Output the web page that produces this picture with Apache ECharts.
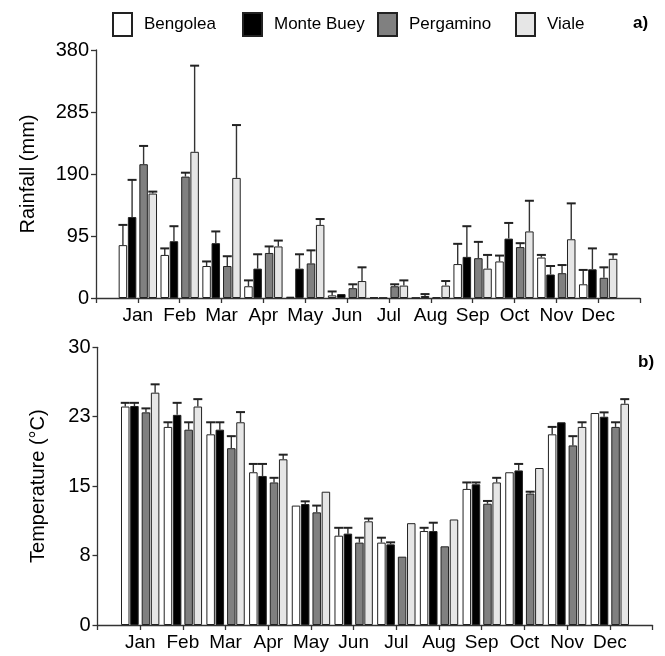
<!DOCTYPE html>
<html>
<head>
<meta charset="utf-8">
<script src="https://cdn.jsdelivr.net/npm/echarts@6/dist/echarts.min.js"></script>
<style>
  html, body { margin: 0; padding: 0; background: #fff; }
  #chart { width: 665px; height: 656px; }
</style>
</head>
<body>
<div id="chart"></div>
<script>
// Month axis: an empty slot on each side so ticks sit at month centres
const months = ['', 'Jan', 'Feb', 'Mar', 'Apr', 'May', 'Jun', 'Jul', 'Aug', 'Sep', 'Oct', 'Nov', 'Dec', ''];
const sites = ['Bengolea', 'Monte Buey', 'Pergamino', 'Viale'];

// Monthly rainfall (mm): mean and upper error
const rainBengolea   = [81, 66, 49, 18, 2, 4, 1, 0.5, 52, 56, 62, 21];
const rainMonteBuey  = [124, 87, 84, 45, 45, 6, 0.5, 3, 63, 91, 36, 44];
const rainPergamino  = [205, 186, 49, 69, 53, 15, 18, 1, 61, 78, 38, 31];
const rainViale      = [160, 224, 184, 79, 112, 26, 19, 19, 45, 102, 90, 60];
const rainErrBengolea  = [31, 10, 7, 9, 0, 6, 0, 0, 31, 9, 4, 22];
const rainErrMonteBuey = [57, 23, 18, 22, 22, 0, 0, 3, 47, 24, 13, 32];
const rainErrPergamino = [28, 6, 15, 10, 20, 6, 3, 0, 25, 6, 12.5, 16];
const rainErrViale     = [3, 132, 81, 9, 9, 21, 8, 7, 21, 47, 55, 7];

// Monthly mean temperature (°C): mean and upper error
const tempBengolea   = [23.6, 21.4, 20.6, 16.5, 12.9, 9.65, 8.9, 10.15, 14.7, 16.5, 20.6, 22.9];
const tempMonteBuey  = [23.66, 22.7, 21.1, 16.1, 13.07, 9.87, 8.71, 10.15, 15.2, 16.7, 21.9, 22.5];
const tempPergamino  = [22.97, 21.1, 19.1, 15.4, 12.17, 8.9, 7.38, 8.5, 13.1, 14.2, 19.4, 21.4];
const tempViale      = [25.1, 23.6, 21.9, 17.9, 14.4, 11.2, 11.0, 11.4, 15.4, 16.96, 21.4, 23.9];
const tempErrBengolea  = [0.4, 0.5, 1.3, 0.9, 0, 0.85, 0.53, 0.35, 0.7, 0, 0.8, 0];
const tempErrMonteBuey = [0.34, 1.3, 0.8, 1.3, 0.29, 0.63, 0.22, 0.9, 0.2, 0.7, 0, 0.47];
const tempErrPergamino = [0.43, 0.8, 1.3, 0.5, 0.73, 0.53, 0, 0, 0.3, 0.2, 1.0, 0.5];
const tempErrViale     = [0.9, 0.8, 1.1, 0.5, 0, 0.3, 0, 0, 0.5, 0, 0.5, 0.5];

// Axis ranges and tick steps
const rainMax = 380, rainStep = 95;
const tempMax = 30, tempStep = 7.5;

const FONT = 'Liberation Sans, Arial, sans-serif';
const fills = ['#ffffff', '#000000', '#808080', '#e6e6e6'];
const BAR_W = 8.5;
const GAP = 0.08;      // barGap fraction
const SPACER_W = 2.15; // small extra gap between the 2nd and 3rd bar

// Horizontal offsets of each bar centre relative to the month tick,
// following ECharts' own column layout (bar, bar, spacer, bar, bar)
function barOffsets() {
  const widths = [BAR_W, BAR_W, SPACER_W, BAR_W, BAR_W];
  let sum = 0;
  widths.forEach(w => { sum += w * (1 + GAP); });
  sum -= widths[widths.length - 1] * GAP;
  let off = -sum / 2;
  const centres = [];
  widths.forEach(w => { centres.push(off + w / 2); off += w * (1 + GAP); });
  return [centres[0], centres[1], centres[3], centres[4]];
}
const offsets = barOffsets();

function toPairs(arr) { return arr.map((v, i) => [i + 1, v]); }
function toTriples(vals, errs) { return vals.map((v, i) => [i + 1, v, errs[i]]); }

function errorSeries(vals, errs, k, axisIdx) {
  return {
    type: 'custom',
    xAxisIndex: axisIdx, yAxisIndex: axisIdx,
    z: 5,
    silent: true,
    encode: { x: 0, y: 1 },
    data: toTriples(vals, errs),
    renderItem: function (params, api) {
      const err = api.value(2);
      if (!(err > 0)) return null;
      const base = api.coord([api.value(0), api.value(1)]);
      const top = api.coord([api.value(0), api.value(1) + err]);
      const x = base[0] + offsets[k];
      return {
        type: 'group',
        children: [
          { type: 'line', shape: { x1: x, y1: base[1], x2: x, y2: top[1] },
            style: { stroke: '#333', lineWidth: 1.4 } },
          { type: 'line', shape: { x1: x - 4.5, y1: top[1], x2: x + 4.5, y2: top[1] },
            style: { stroke: '#222', lineWidth: 2 } }
        ]
      };
    }
  };
}

function barSeries(name, vals, k, axisIdx) {
  return {
    name: name,
    type: 'bar',
    xAxisIndex: axisIdx, yAxisIndex: axisIdx,
    barWidth: BAR_W,
    barGap: (GAP * 100) + '%',
    data: toPairs(vals),
    itemStyle: { color: fills[k], borderColor: '#222', borderWidth: 1 },
    emphasis: { disabled: true }
  };
}

function spacerSeries(axisIdx) {
  return {
    name: '_gap' + axisIdx,
    type: 'bar',
    xAxisIndex: axisIdx, yAxisIndex: axisIdx,
    barWidth: SPACER_W,
    barGap: (GAP * 100) + '%',
    data: [],
    silent: true
  };
}

const rainVals = [rainBengolea, rainMonteBuey, rainPergamino, rainViale];
const rainErrs = [rainErrBengolea, rainErrMonteBuey, rainErrPergamino, rainErrViale];
const tempVals = [tempBengolea, tempMonteBuey, tempPergamino, tempViale];
const tempErrs = [tempErrBengolea, tempErrMonteBuey, tempErrPergamino, tempErrViale];

function panelSeries(vals, errs, axisIdx) {
  const s = [];
  s.push(barSeries(sites[0], vals[0], 0, axisIdx));
  s.push(barSeries(sites[1], vals[1], 1, axisIdx));
  s.push(spacerSeries(axisIdx));
  s.push(barSeries(sites[2], vals[2], 2, axisIdx));
  s.push(barSeries(sites[3], vals[3], 3, axisIdx));
  for (let k = 0; k < 4; k++) s.push(errorSeries(vals[k], errs[k], k, axisIdx));
  return s;
}

const axisLineStyle = { color: '#333', width: 1.3 };

function xAxis(gridIndex) {
  return {
    type: 'category',
    gridIndex: gridIndex,
    data: months,
    boundaryGap: false,
    axisLine: { lineStyle: axisLineStyle },
    axisTick: { show: true, interval: 0, length: 5, lineStyle: axisLineStyle },
    axisLabel: { interval: 0, color: '#000', fontFamily: FONT, fontSize: 19, margin: 8 },
    splitLine: { show: false }
  };
}

function yAxis(gridIndex, max, step, name, gap, fmt) {
  return {
    type: 'value',
    gridIndex: gridIndex,
    min: 0, max: max, interval: step,
    name: name,
    nameLocation: 'middle',
    nameGap: gap,
    nameTextStyle: { color: '#000', fontFamily: FONT, fontSize: 20 },
    axisLine: { show: true, lineStyle: axisLineStyle },
    axisTick: { show: true, length: 5, lineStyle: axisLineStyle },
    axisLabel: { color: '#000', fontFamily: FONT, fontSize: 20, margin: 7, formatter: fmt },
    splitLine: { show: false }
  };
}

// One legend block per site so each key sits at its own position
const legendLefts = [107, 237, 372, 510];
const legends = sites.map((s, k) => ({
  data: [s],
  left: legendLefts[k],
  top: 7,
  itemWidth: 19,
  itemHeight: 23,
  itemGap: 10,
  icon: 'rect',
  selectedMode: false,
  textStyle: { color: '#000', fontFamily: FONT, fontSize: 17, padding: [0, 0, 0, 7] }
}));

const option = {
  backgroundColor: '#fff',
  animation: false,
  title: [
    { text: 'a)', left: 628, top: 10, textStyle: { fontFamily: FONT, fontSize: 17, fontWeight: 'bold', color: '#000' } },
    { text: 'b)', left: 633, top: 349, textStyle: { fontFamily: FONT, fontSize: 17, fontWeight: 'bold', color: '#000' } }
  ],
  legend: legends,
  grid: [
    { left: 96, top: 50, width: 544, height: 248 },
    { left: 97.5, top: 347.3, width: 555, height: 277.7 }
  ],
  xAxis: [xAxis(0), xAxis(1)],
  yAxis: [
    yAxis(0, rainMax, rainStep, 'Rainfall (mm)', 58, v => String(v)),
    yAxis(1, tempMax, tempStep, 'Temperature (°C)', 49, v => String(Math.round(v)))
  ],
  series: panelSeries(rainVals, rainErrs, 0).concat(panelSeries(tempVals, tempErrs, 1))
};

const chart = echarts.init(document.getElementById('chart'), null, { renderer: 'canvas' });
chart.setOption(option);
</script>
</body>
</html>
